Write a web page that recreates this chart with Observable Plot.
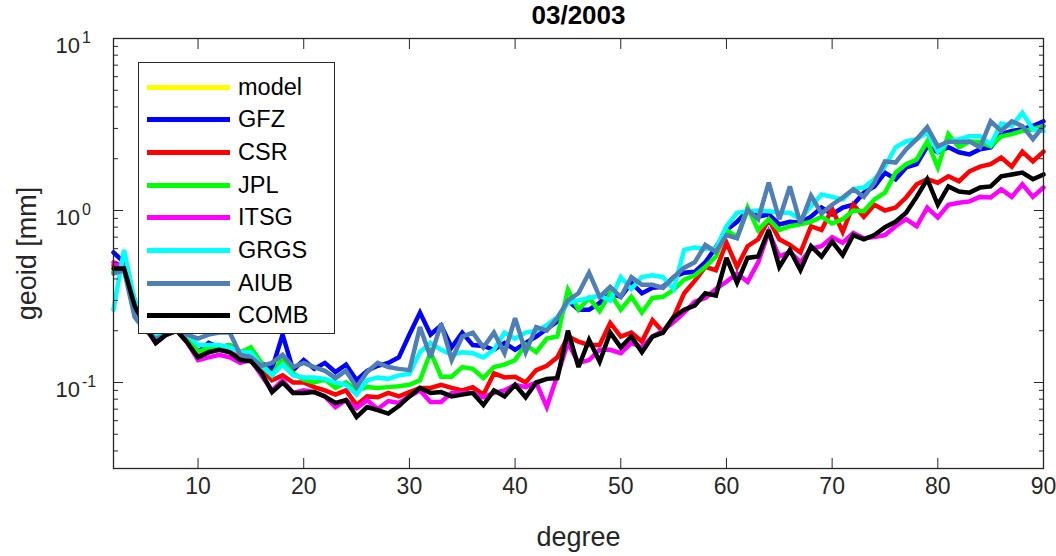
<!DOCTYPE html>
<html><head><meta charset="utf-8">
<script src="https://cdn.jsdelivr.net/npm/d3@7"></script>
<script src="https://cdn.jsdelivr.net/npm/@observablehq/plot@0.6"></script>
<style>
body{margin:0;background:#fff;}
#wrap{position:relative;width:1056px;height:556px;font-family:"Liberation Sans",Arial,Helvetica,sans-serif;}
#legend{position:absolute;left:138px;top:62px;width:197px;height:272px;border:1.3px solid #262626;background:#fff;box-sizing:border-box;}
.row{position:absolute;left:8px;height:32px;display:flex;align-items:center;}
.sw{width:83px;height:5px;margin-right:8px;}
.lb{font-size:23.5px;color:#000;}
</style></head><body><div id="wrap"></div>
<script>
const title = "03/2003";
const xLabel = "degree";
const yLabel = "geoid [mm]";
const degrees = d3.range(2, 91);
const xTicks = [10, 20, 30, 40, 50, 60, 70, 80, 90];
const yMajor = [0.1, 1, 10];
const yMinor = [0.04,0.05,0.06,0.07,0.08,0.09,0.2,0.3,0.4,0.5,0.6,0.7,0.8,0.9,2,3,4,5,6,7,8,9];
const names  = ["model", "GFZ", "CSR", "JPL", "ITSG", "GRGS", "AIUB", "COMB"];
const colors = ["#ffff00", "#0000ff", "#ff0000", "#00ff00", "#ff00ff", "#00ffff", "#4f7fb3", "#000000"];

const model = [];
const GFZ = [0.57,0.50,0.30,0.22,0.17,0.19,0.20,0.19,0.15,0.17,
  0.16,0.165,0.15,0.15,0.13,0.12,0.19,0.118,0.135,0.12,
  0.13,0.115,0.127,0.103,0.117,0.125,0.13,0.14,0.19,0.255,
  0.19,0.215,0.16,0.195,0.165,0.163,0.155,0.17,0.155,0.17,
  0.185,0.205,0.226,0.30,0.265,0.265,0.29,0.33,0.315,0.38,
  0.33,0.355,0.36,0.41,0.435,0.44,0.50,0.61,0.77,0.86,
  1.0,0.92,0.95,0.83,0.86,0.85,0.92,1.04,0.95,1.04,
  1.08,1.27,1.38,1.66,1.52,1.78,1.86,2.36,2.18,2.33,
  2.18,2.12,2.27,2.33,2.78,2.9,2.97,3.1,3.3];
const CSR = [0.48,0.47,0.29,0.22,0.18,0.19,0.20,0.18,0.145,0.15,
  0.16,0.15,0.14,0.15,0.12,0.103,0.11,0.10,0.10,0.094,
  0.09,0.085,0.09,0.074,0.083,0.082,0.087,0.083,0.088,0.093,
  0.093,0.097,0.093,0.09,0.094,0.085,0.113,0.107,0.108,0.10,
  0.118,0.125,0.14,0.185,0.173,0.165,0.165,0.222,0.185,0.195,
  0.173,0.23,0.197,0.24,0.33,0.39,0.47,0.45,0.65,0.47,
  0.62,0.68,0.89,0.68,0.63,0.57,0.81,0.77,1.02,0.75,
  1.08,0.92,1.08,1.0,1.04,1.19,1.42,1.52,1.45,1.58,
  1.48,1.69,1.8,1.86,2.03,1.8,2.2,1.93,2.2];
const JPL = [0.44,0.47,0.28,0.22,0.18,0.20,0.20,0.19,0.15,0.16,
  0.16,0.165,0.15,0.16,0.13,0.11,0.14,0.113,0.104,0.10,
  0.104,0.093,0.10,0.09,0.094,0.093,0.094,0.095,0.097,0.103,
  0.15,0.108,0.108,0.123,0.12,0.106,0.123,0.127,0.135,0.166,
  0.15,0.18,0.185,0.346,0.265,0.31,0.26,0.33,0.265,0.315,
  0.255,0.31,0.315,0.346,0.396,0.42,0.47,0.54,0.77,0.70,
  1.04,0.77,0.89,0.77,0.81,0.83,0.86,0.92,0.84,0.89,
  1.0,0.99,1.16,1.27,1.66,1.86,1.98,2.52,1.78,2.78,
  2.33,2.52,2.5,2.36,2.7,2.78,2.9,2.97,3.1];
const ITSG = [0.50,0.47,0.28,0.21,0.17,0.19,0.20,0.17,0.135,0.14,
  0.145,0.14,0.13,0.135,0.11,0.09,0.103,0.087,0.09,0.088,
  0.083,0.072,0.079,0.071,0.079,0.07,0.078,0.076,0.083,0.09,
  0.077,0.077,0.087,0.087,0.087,0.082,0.087,0.09,0.097,0.094,
  0.10,0.072,0.11,0.17,0.13,0.135,0.155,0.155,0.148,0.17,
  0.16,0.185,0.20,0.225,0.255,0.295,0.31,0.35,0.385,0.43,
  0.385,0.50,0.75,0.54,0.575,0.50,0.60,0.62,0.70,0.65,
  0.74,0.69,0.70,0.72,0.81,0.89,0.81,1.04,0.91,1.08,
  1.11,1.13,1.2,1.19,1.33,1.2,1.42,1.2,1.36];
const GRGS = [0.265,0.59,0.30,0.22,0.185,0.19,0.20,0.19,0.165,0.165,
  0.165,0.16,0.15,0.15,0.125,0.11,0.127,0.11,0.107,0.107,
  0.105,0.10,0.097,0.085,0.103,0.107,0.105,0.11,0.112,0.15,
  0.17,0.155,0.145,0.15,0.148,0.14,0.155,0.195,0.18,0.195,
  0.20,0.215,0.24,0.29,0.30,0.31,0.32,0.30,0.41,0.35,
  0.41,0.42,0.41,0.35,0.59,0.61,0.60,0.60,0.81,0.97,
  0.99,1.0,0.99,0.97,0.97,0.89,1.06,1.24,1.2,1.16,
  1.33,1.36,1.52,1.8,2.33,2.52,2.6,2.85,2.2,2.52,
  2.6,2.7,2.7,2.42,3.2,3.1,3.7,2.97,2.9];
const AIUB = [0.43,0.45,0.24,0.20,0.18,0.19,0.20,0.19,0.18,0.19,
  0.195,0.195,0.145,0.14,0.125,0.13,0.145,0.123,0.13,0.123,
  0.117,0.106,0.117,0.094,0.115,0.13,0.123,0.12,0.118,0.21,
  0.14,0.22,0.135,0.185,0.195,0.16,0.195,0.148,0.237,0.15,
  0.21,0.20,0.237,0.30,0.33,0.435,0.315,0.36,0.315,0.41,
  0.37,0.37,0.355,0.41,0.465,0.50,0.63,0.575,0.72,0.69,
  1.01,0.89,1.45,0.89,1.38,0.84,1.22,0.96,1.08,1.19,
  1.33,1.2,1.45,1.93,1.9,2.27,2.6,3.05,2.36,2.52,
  2.5,2.52,2.33,3.3,2.9,3.3,3.1,2.6,3.1];
const COMB = [0.46,0.46,0.28,0.21,0.17,0.19,0.20,0.17,0.14,0.15,
  0.155,0.15,0.135,0.133,0.114,0.088,0.10,0.087,0.087,0.088,
  0.083,0.076,0.079,0.063,0.072,0.069,0.066,0.073,0.083,0.093,
  0.087,0.088,0.083,0.085,0.087,0.074,0.09,0.083,0.097,0.082,
  0.10,0.105,0.106,0.20,0.123,0.177,0.132,0.195,0.16,0.185,
  0.15,0.185,0.195,0.24,0.265,0.28,0.33,0.32,0.53,0.38,
  0.53,0.54,0.77,0.47,0.59,0.45,0.62,0.54,0.66,0.55,
  0.72,0.68,0.72,0.80,0.86,0.97,1.2,1.52,1.08,1.38,
  1.29,1.27,1.36,1.38,1.58,1.62,1.66,1.52,1.62];

const seriesValues = [model, GFZ, CSR, JPL, ITSG, GRGS, AIUB, COMB];
const rows = [];
seriesValues.forEach((vals, s) => vals.forEach((v, i) => rows.push({degree: degrees[i], value: v, name: names[s]})));

const axisColor = "#262626";
const chart = Plot.plot({
  width: 1056, height: 556,
  marginLeft: 113, marginRight: 13, marginTop: 38, marginBottom: 88,
  style: {fontFamily: "'Liberation Sans', Arial, Helvetica, sans-serif", fontSize: "22px", color: axisColor, background: "#fff"},
  x: {domain: [2, 90]},
  y: {type: "log", domain: [Math.pow(10, -1.5), 10]},
  color: {domain: names, range: colors},
  marks: [
    Plot.line(rows, {x: "degree", y: "value", z: "name", stroke: "name", strokeWidth: 4.5, strokeLinejoin: "miter", strokeMiterlimit: 3}),
    Plot.frame({stroke: axisColor, strokeWidth: 1.3}),
    Plot.axisX(xTicks, {anchor: "bottom", tickSize: 10, insetBottom: 10, fill: "none", stroke: axisColor, label: null}),
    Plot.axisX(xTicks, {anchor: "top", tickSize: 10, insetTop: 10, fill: "none", stroke: axisColor, label: null}),
    Plot.axisX(xTicks, {anchor: "bottom", tickSize: 0, tickPadding: 9, tickFormat: d => String(d), fill: axisColor, fontSize: 23, label: null}),
    Plot.axisY(yMajor, {anchor: "left", tickSize: 10, insetLeft: 10, fill: "none", stroke: axisColor, label: null}),
    Plot.axisY(yMinor, {anchor: "left", tickSize: 5, insetLeft: 5, fill: "none", stroke: axisColor, label: null}),
    Plot.axisY(yMajor, {anchor: "right", tickSize: 10, insetRight: 10, fill: "none", stroke: axisColor, label: null}),
    Plot.axisY(yMinor, {anchor: "right", tickSize: 5, insetRight: 5, fill: "none", stroke: axisColor, label: null}),
    Plot.axisY(yMajor, {anchor: "left", tickSize: 0, tickPadding: 58, textAnchor: "start", dy: 7,
      tickFormat: d => "10^" + Math.round(Math.log10(d)), fill: axisColor, fontSize: 22, label: null}),
    Plot.text([title], {text: d => d, frameAnchor: "top", lineAnchor: "middle", dy: -23, fontWeight: "bold", fontSize: 26, fill: "#000"}),
    Plot.text([xLabel], {text: d => d, frameAnchor: "bottom", lineAnchor: "middle", dy: 69, fontSize: 27, fill: axisColor}),
    Plot.text([yLabel], {text: d => d, frameAnchor: "left", textAnchor: "middle", lineAnchor: "middle", dx: -86, rotate: -90, fontSize: 27, fill: axisColor})
  ]
});

// superscript exponents for log tick labels
d3.select(chart).selectAll("text").each(function() {
  const t = this.textContent;
  const m = /^10\^(-?\d+)$/.exec(t);
  if (m) {
    const sel = d3.select(this);
    sel.text("10");
    sel.append("tspan").attr("dy", "-0.6em").attr("dx", "2").attr("font-size", "16px").text(m[1]);
  }
});

const wrap = document.getElementById("wrap");
wrap.appendChild(chart);

const legend = document.createElement("div");
legend.id = "legend";
names.forEach((n, i) => {
  const row = document.createElement("div");
  row.className = "row";
  row.style.top = (8 + i * 32.7) + "px";
  const sw = document.createElement("div");
  sw.className = "sw";
  sw.style.background = colors[i];
  const lb = document.createElement("span");
  lb.className = "lb";
  lb.textContent = n;
  row.appendChild(sw); row.appendChild(lb);
  legend.appendChild(row);
});
wrap.appendChild(legend);
</script></body></html>
